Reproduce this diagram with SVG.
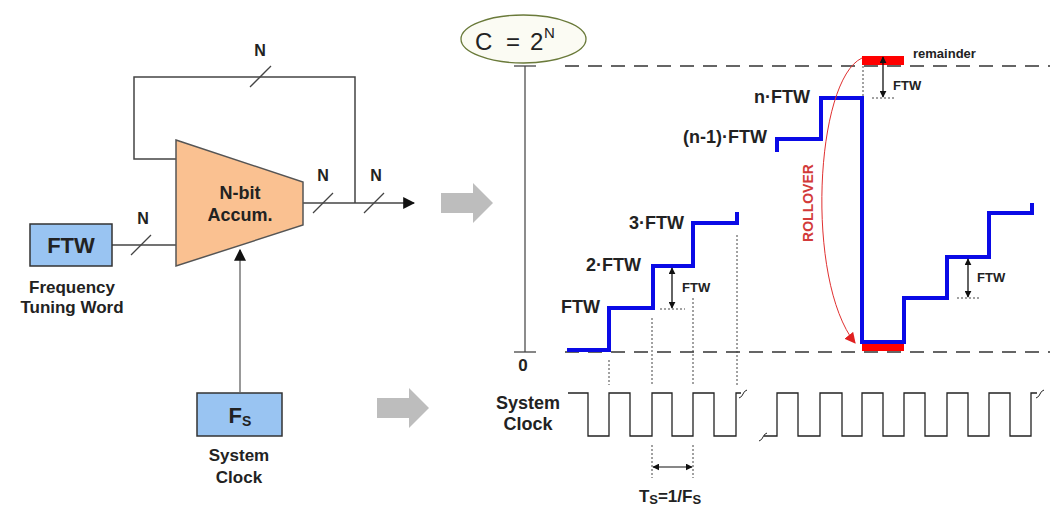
<svg xmlns="http://www.w3.org/2000/svg" width="1050" height="508" viewBox="0 0 1050 508">
<style>
.t{font-family:"Liberation Sans",Arial,sans-serif;font-weight:bold;fill:#222}
.w{stroke:#444;stroke-width:1.5;fill:none}
.sl{stroke:#444;stroke-width:1.3}
.blue{stroke:#0a0ae6;stroke-width:4;fill:none}
.dash{stroke:#333;stroke-width:1.3;stroke-dasharray:14 9;fill:none}
.dot{stroke:#444;stroke-width:1;stroke-dasharray:2 2;fill:none}
.clk{stroke:#222;stroke-width:1.3;fill:none}
.ga{fill:#bdbdbd}
</style>
<defs>
<marker id="ah" viewBox="0 0 10 10" refX="9" refY="5" markerWidth="7" markerHeight="7" orient="auto-start-reverse" markerUnits="userSpaceOnUse"><path d="M0,0 L10,5 L0,10 z" fill="#111"/></marker>
<marker id="ahb" viewBox="0 0 10 10" refX="9" refY="5" markerWidth="12" markerHeight="12" orient="auto-start-reverse" markerUnits="userSpaceOnUse"><path d="M0,0 L10,5 L0,10 z" fill="#111"/></marker>
<marker id="ahr" viewBox="0 0 10 10" refX="9" refY="5" markerWidth="11" markerHeight="11" orient="auto" markerUnits="userSpaceOnUse"><path d="M0,0 L10,5 L0,10 z" fill="#e02020"/></marker>
</defs>

<!-- connectors -->
<g id="connectors">
  <polyline class="w" points="176,159 134,159 134,77 355,77 355,203"/>
  <line class="w" x1="303" y1="203" x2="414" y2="203" marker-end="url(#ahb)"/>
  <line class="w" x1="112" y1="245" x2="176" y2="245"/>
  <line x1="240" y1="392" x2="240" y2="250" stroke="#777" stroke-width="1.5" marker-end="url(#ahb)"/>
  <line class="sl" x1="250" y1="87" x2="271" y2="66"/>
  <line class="sl" x1="313" y1="213" x2="333" y2="193"/>
  <line class="sl" x1="364" y1="213" x2="384" y2="193"/>
  <line class="sl" x1="131" y1="255" x2="151" y2="235"/>
  <path class="ga" d="M441,193 H473 V183 L493,203 L473,223 V213 H441 Z"/>
  <path class="ga" d="M377,398 H409 V388 L429,408 L409,428 V418 H377 Z"/>
</g>

<!-- left block labels -->
<g id="labels-left">
  <text class="t" x="260" y="56" font-size="16" text-anchor="middle">N</text>
  <text class="t" x="323" y="181" font-size="16" text-anchor="middle">N</text>
  <text class="t" x="376" y="181" font-size="16" text-anchor="middle">N</text>
  <text class="t" x="143" y="224" font-size="16" text-anchor="middle">N</text>
</g>

<g id="accumulator">
  <polygon points="176,140 303,182 303,225 176,266" fill="#fac191" stroke="#555" stroke-width="1.5"/>
  <text class="t" x="240" y="199" font-size="18" text-anchor="middle">N-bit</text>
  <text class="t" x="240" y="221" font-size="18" text-anchor="middle">Accum.</text>
</g>

<g id="ftw">
  <rect x="30" y="224" width="82" height="42" fill="#99c4f2" stroke="#333" stroke-width="1.5"/>
  <text class="t" x="71" y="253" font-size="22" text-anchor="middle" fill="#1a1a1a">FTW</text>
  <text class="t" x="72" y="293" font-size="17" text-anchor="middle" fill="#333">Frequency</text>
  <text class="t" x="72" y="313" font-size="17" text-anchor="middle" fill="#333">Tuning Word</text>
</g>

<g id="fs">
  <rect x="197" y="393" width="85" height="43" fill="#99c4f2" stroke="#333" stroke-width="1.5"/>
  <text class="t" x="240" y="423" font-size="22" text-anchor="middle">F<tspan font-size="14" dy="3">S</tspan></text>
  <text class="t" x="239" y="461" font-size="17" text-anchor="middle" fill="#333">System</text>
  <text class="t" x="239" y="483" font-size="17" text-anchor="middle" fill="#333">Clock</text>
</g>

<!-- right: accumulator output plot -->
<g id="capacity">
  <ellipse cx="523.5" cy="39" rx="62.5" ry="24" fill="#fbfbf3" stroke="#6a7a3a" stroke-width="1.3"/>
  <text x="475" y="50" font-family="Liberation Sans, Arial, sans-serif" font-size="24" fill="#222">C</text>
  <text x="506" y="50" font-family="Liberation Sans, Arial, sans-serif" font-size="24" fill="#222">=</text>
  <text x="530" y="50" font-family="Liberation Sans, Arial, sans-serif" font-size="24" fill="#222">2</text>
  <text x="544" y="38" font-family="Liberation Sans, Arial, sans-serif" font-size="15" fill="#222">N</text>
</g>

<g id="axes">
  <line x1="525" y1="66" x2="525" y2="352" stroke="#666" stroke-width="1.5"/>
  <line x1="514" y1="66" x2="536" y2="66" stroke="#444" stroke-width="1.3"/>
  <line x1="514" y1="352" x2="536" y2="352" stroke="#444" stroke-width="1.3"/>
  <line class="dash" x1="565" y1="66" x2="1050" y2="66"/>
  <line class="dash" x1="565" y1="352" x2="1050" y2="352"/>
  <text class="t" x="523" y="371" font-size="17" text-anchor="middle">0</text>
</g>

<g id="remainder">
  <rect x="862" y="56" width="42" height="9" fill="#ff0000"/>
  <rect x="862" y="343" width="42" height="8" fill="#ff0000"/>
  <text class="t" x="913" y="58" font-size="13" fill="#444">remainder</text>
</g>

<g id="staircase">
  <polyline class="blue" points="567,350 609,350 609,308 653,308 653,266 693,266 693,223 737,223 737,212"/>
  <polyline class="blue" points="777,152 777,139 821,139 821,98 862,98 862,342 904,342 904,298 947,298 947,257 989,257 989,213 1032,213 1032,203"/>
</g>

<g id="step-labels">
  <text class="t" x="600" y="313" font-size="18" text-anchor="end">FTW</text>
  <text class="t" x="641" y="271" font-size="18" text-anchor="end">2·FTW</text>
  <text class="t" x="684" y="229" font-size="18" text-anchor="end">3·FTW</text>
  <text class="t" x="767" y="143" font-size="18" text-anchor="end">(n-1)·FTW</text>
  <text class="t" x="810" y="103" font-size="18" text-anchor="end">n·FTW</text>
</g>

<g id="ftw-arrows">
  <line x1="672" y1="268" x2="672" y2="308" stroke="#111" stroke-width="1.3" marker-start="url(#ah)" marker-end="url(#ah)"/>
  <line class="dot" x1="660" y1="309" x2="685" y2="309"/>
  <text class="t" x="682" y="292" font-size="13" fill="#333">FTW</text>
  <line x1="883" y1="57" x2="883" y2="97" stroke="#111" stroke-width="1.3" marker-start="url(#ah)" marker-end="url(#ah)"/>
  <line class="dot" x1="872" y1="98" x2="895" y2="98"/>
  <line class="dot" x1="863" y1="66" x2="863" y2="97"/>
  <text class="t" x="893" y="90" font-size="13" fill="#333">FTW</text>
  <line x1="968" y1="259" x2="968" y2="297" stroke="#111" stroke-width="1.3" marker-start="url(#ah)" marker-end="url(#ah)"/>
  <line class="dot" x1="957" y1="298" x2="980" y2="298"/>
  <text class="t" x="977" y="282" font-size="13" fill="#333">FTW</text>
</g>

<g id="rollover">
  <path d="M862,58 C815,80 805,280 855,343" fill="none" stroke="#e03030" stroke-width="1" marker-end="url(#ahr)"/>
  <text x="813" y="203" font-family="Liberation Sans, Arial, sans-serif" font-weight="bold" font-size="14" fill="#d23a3a" text-anchor="middle" transform="rotate(-90 813 203)">ROLLOVER</text>
</g>

<g id="sample-lines">
  <line class="dot" x1="609" y1="360" x2="609" y2="385"/>
  <line class="dot" x1="652" y1="318" x2="652" y2="385"/>
  <line class="dot" x1="693" y1="298" x2="693" y2="385"/>
  <line class="dot" x1="737" y1="235" x2="737" y2="385"/>
  <line class="dot" x1="652" y1="445" x2="652" y2="478"/>
  <line class="dot" x1="693" y1="445" x2="693" y2="478"/>
</g>

<g id="system-clock">
  <text class="t" x="528" y="409" font-size="18" text-anchor="middle">System</text>
  <text class="t" x="528" y="430" font-size="18" text-anchor="middle">Clock</text>
  <polyline class="clk" points="568,393 588,393 588,436 609,436 609,393 630,393 630,436 652,436 652,393 672,393 672,436 693,436 693,393 714,393 714,436 736,436 736,393 741,393"/>
  <path d="M739,398 q3,-1 4,-4 q1,-3 4,-4" fill="none" stroke="#222" stroke-width="1"/>
  <polyline class="clk" points="764,436 777,436 777,393 798,393 798,436 820,436 820,393 842,393 842,436 862,436 862,393 883,393 883,436 904,436 904,393 925,393 925,436 947,436 947,393 968,393 968,436 989,436 989,393 1010,393 1010,436 1031,436 1031,393 1037,393"/>
  <path d="M759,441 q3,-1 4,-4 q1,-3 4,-4" fill="none" stroke="#222" stroke-width="1"/>
  <path d="M1036,398 q3,-1 4,-4 q1,-3 4,-4" fill="none" stroke="#222" stroke-width="1"/>
</g>

<g id="period">
  <line x1="653" y1="467" x2="692" y2="467" stroke="#111" stroke-width="1.2" marker-start="url(#ah)" marker-end="url(#ah)"/>
  <text class="t" x="670" y="502" font-size="17" text-anchor="middle">T<tspan font-size="13" dy="2">S</tspan><tspan dy="-2">=1/F</tspan><tspan font-size="13" dy="2">S</tspan></text>
</g>
</svg>
